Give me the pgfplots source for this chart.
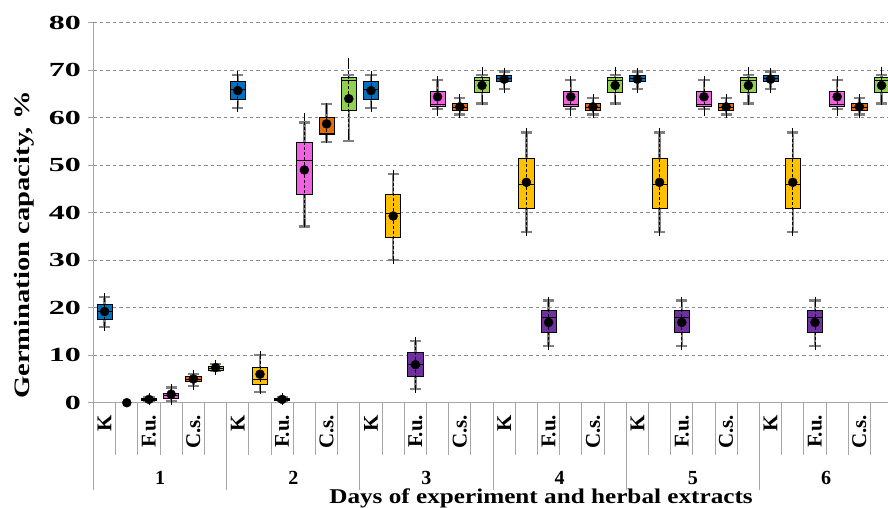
\documentclass[border=0pt]{standalone}
\usepackage{fontspec}
\setmainfont{Liberation Serif}
\newfontfamily\tickfont{Liberation Serif}[FakeStretch=1.6]
\newfontfamily\ylabfont{Liberation Serif}[FakeStretch=1.3]
\newfontfamily\titfont{Liberation Serif}[FakeStretch=1.2]
\usepackage{pgfplots}
\pgfplotsset{compat=1.18}
\usepgfplotslibrary{statistics}
\definecolor{cA}{HTML}{0070C0}
\definecolor{cB}{HTML}{FFC000}
\definecolor{cC}{HTML}{7030A0}
\definecolor{cD}{HTML}{F060E0}
\definecolor{cE}{HTML}{E46C0A}
\definecolor{cF}{HTML}{92D050}
\definecolor{axgray}{HTML}{A6A6A6}
\definecolor{wgray}{HTML}{808080}
\definecolor{ggray}{HTML}{8C8C8C}
\pgfplotsset{
  boxplot/draw direction=y,
  boxplot/box extend=0.68,
  boxplot/whisker extend=0.5,
  boxplot/every whisker/.style={draw=wgray, line width=2.4pt},
  boxplot/every median/.style={draw=black, line width=0.8pt},
}
\newcommand{\bx}[7]{%
  \addplot[draw=black, line width=0.8pt, fill=#7,
    boxplot prepared={draw position=#1, lower whisker=#2, lower quartile=#3,
      median=#4, upper quartile=#5, upper whisker=#6}] coordinates {};}
\pgfplotsset{meanstyle/.style={black, only marks, mark=*, mark size=4.5pt,
  error bars/.cd, y dir=both, y explicit,
  error bar style={black, densely dashed, line width=0.7pt},
  error mark options={black, solid, line width=0.7pt, mark size=4pt}}}
\begin{document}
\begin{tikzpicture}
\begin{axis}[
  scale only axis, width=794.5pt, height=380pt,
  xmin=0, xmax=35.79, ymin=0, ymax=80,
  axis x line=bottom, axis y line=left,
  axis line style={-, draw=axgray, line width=1.3pt},
  xtick=\empty,
  ytick={0,10,...,80},
  tick align=outside, major tick length=5pt,
  y tick style={draw=axgray, line width=1pt},
  ymajorgrids, grid style={draw=ggray, line width=0.6pt, dash pattern=on 3.5pt off 3pt},
  /pgf/number format/assume math mode=true,
  yticklabel style={font=\tickfont\bfseries\fontsize{20}{20}\selectfont, xshift=-4pt},
  clip=false,
]
\coordinate (O) at (axis cs:0,0);
% --- box plots (gray whiskers) ---
% K (blue)
\bx{0.5}{15.9}{17.6}{19.2}{20.6}{22.2}{cA}
\bx{6.5}{62.0}{63.9}{66.0}{67.6}{69.0}{cA}
\bx{12.5}{62.0}{63.9}{66.0}{67.6}{69.0}{cA}
\bx{18.5}{66.0}{67.6}{68.3}{69.0}{69.7}{cA}
\bx{24.5}{66.0}{67.6}{68.3}{69.0}{69.7}{cA}
\bx{30.5}{66.0}{67.6}{68.3}{69.0}{69.7}{cA}
% yellow
\bx{7.5}{2.3}{3.9}{4.9}{7.4}{10.0}{cB}
\bx{13.5}{30.0}{34.8}{39.9}{43.9}{48.1}{cB}
\bx{19.5}{35.9}{40.9}{46.0}{51.4}{56.9}{cB}
\bx{25.5}{35.9}{40.9}{46.0}{51.4}{56.9}{cB}
\bx{31.5}{35.9}{40.9}{46.0}{51.4}{56.9}{cB}
% purple
\bx{2.5}{0.3}{0.45}{0.7}{0.95}{1.1}{cC}
\bx{8.5}{0.3}{0.45}{0.7}{0.95}{1.1}{cC}
\bx{14.5}{2.9}{5.5}{8.1}{10.5}{13.0}{cC}
\bx{20.5}{11.9}{14.9}{17.9}{19.4}{21.5}{cC}
\bx{26.5}{11.9}{14.9}{17.9}{19.4}{21.5}{cC}
\bx{32.5}{11.9}{14.9}{17.9}{19.4}{21.5}{cC}
% pink
\bx{3.5}{0.4}{0.9}{1.5}{2.0}{3.2}{cD}
\bx{9.5}{37.1}{43.9}{51.0}{54.9}{59.0}{cD}
\bx{15.5}{61.8}{62.3}{62.9}{65.5}{67.9}{cD}
\bx{21.5}{61.8}{62.3}{62.9}{65.5}{67.9}{cD}
\bx{27.5}{61.8}{62.3}{62.9}{65.5}{67.9}{cD}
\bx{33.5}{61.8}{62.3}{62.9}{65.5}{67.9}{cD}
% orange
\bx{4.5}{3.5}{4.4}{4.9}{5.5}{6.0}{cE}
\bx{10.5}{54.9}{56.4}{56.8}{60.1}{62.9}{cE}
\bx{16.5}{60.7}{61.5}{62.2}{63.0}{64.1}{cE}
\bx{22.5}{60.7}{61.5}{62.2}{63.0}{64.1}{cE}
\bx{28.5}{60.7}{61.5}{62.2}{63.0}{64.1}{cE}
\bx{34.5}{60.7}{61.5}{62.2}{63.0}{64.1}{cE}
% green
\bx{5.5}{6.7}{6.9}{7.3}{7.7}{8.1}{cF}
\bx{11.5}{55.1}{61.6}{67.9}{68.4}{69.0}{cF}
\bx{17.5}{63.0}{65.3}{67.9}{68.4}{69.0}{cF}
\bx{23.5}{63.0}{65.3}{67.9}{68.4}{69.0}{cF}
\bx{29.5}{63.0}{65.3}{67.9}{68.4}{69.0}{cF}
\bx{35.5}{63.0}{65.3}{67.9}{68.4}{69.0}{cF}
% --- means with black error bars ---
\addplot[meanstyle] coordinates {
 (0.5,19.2) += (0,3.0) -= (0,3.3)
 (6.5,65.7) += (0,3.3) -= (0,3.7)
 (12.5,65.7) += (0,3.3) -= (0,3.7)
 (18.5,68.1) += (0,1.6) -= (0,2.1)
 (24.5,68.1) += (0,1.6) -= (0,2.1)
 (30.5,68.1) += (0,1.6) -= (0,2.1)};
\addplot[meanstyle] coordinates {
 (1.5,0) += (0,0) -= (0,0)
 (7.5,6.0) += (0,4.0) -= (0,3.4)
 (13.5,39.3) += (0,8.8) -= (0,9.3)
 (19.5,46.4) += (0,10.5) -= (0,10.5)
 (25.5,46.4) += (0,10.5) -= (0,10.5)
 (31.5,46.4) += (0,10.5) -= (0,10.5)};
\addplot[meanstyle] coordinates {
 (2.5,0.7) += (0,0.4) -= (0,0.4)
 (8.5,0.7) += (0,0.4) -= (0,0.4)
 (14.5,8.0) += (0,5.0) -= (0,5.1)
 (20.5,16.9) += (0,4.6) -= (0,5.0)
 (26.5,16.9) += (0,4.6) -= (0,5.0)
 (32.5,16.9) += (0,4.6) -= (0,5.0)};
\addplot[meanstyle] coordinates {
 (3.5,1.8) += (0,1.4) -= (0,1.4)
 (9.5,49.0) += (0,11.1) -= (0,11.2)
 (15.5,64.4) += (0,3.5) -= (0,3.3)
 (21.5,64.4) += (0,3.5) -= (0,3.3)
 (27.5,64.4) += (0,3.5) -= (0,3.3)
 (33.5,64.4) += (0,3.5) -= (0,3.3)};
\addplot[meanstyle] coordinates {
 (4.5,5.0) += (0,1.0) -= (0,1.5)
 (10.5,58.7) += (0,3.6) -= (0,3.2)
 (16.5,62.3) += (0,1.8) -= (0,1.6)
 (22.5,62.3) += (0,1.8) -= (0,1.6)
 (28.5,62.3) += (0,1.8) -= (0,1.6)
 (34.5,62.3) += (0,1.8) -= (0,1.6)};
\addplot[meanstyle] coordinates {
 (5.5,7.4) += (0,0.7) -= (0,0.7)
 (11.5,64.0) += (0,7.8) -= (0,7.9)
 (17.5,66.8) += (0,3.1) -= (0,3.3)
 (23.5,66.8) += (0,3.1) -= (0,3.3)
 (29.5,66.8) += (0,3.1) -= (0,3.3)
 (35.5,66.8) += (0,3.1) -= (0,3.3)};
% --- category table below the axis ---
\pgfplotsinvokeforeach{1,...,35}{\draw[axgray, line width=0.9pt] (axis cs:#1,0) -- ++(0pt,-52pt);}
\pgfplotsinvokeforeach{0,6,12,18,24,30}{\draw[axgray, line width=0.9pt] (axis cs:#1,0) -- ++(0pt,-87pt);}
\pgfplotsinvokeforeach{0,6,12,18,24,30}{%
  \path (axis cs:#1,0) ++(11.1pt,-12pt) node[rotate=90, anchor=east, inner sep=0pt, font=\bfseries\fontsize{21}{21}\selectfont] {K};
  \path (axis cs:#1,0) ++(55.5pt,-12pt) node[rotate=90, anchor=east, inner sep=0pt, font=\bfseries\fontsize{21}{21}\selectfont] {F.u.};
  \path (axis cs:#1,0) ++(99.9pt,-12pt) node[rotate=90, anchor=east, inner sep=0pt, font=\bfseries\fontsize{21}{21}\selectfont] {C.s.};
}
\path (axis cs:3,0) ++(0,-75pt) node[font=\bfseries\fontsize{20}{20}\selectfont] {1};
\path (axis cs:9,0) ++(0,-75pt) node[font=\bfseries\fontsize{20}{20}\selectfont] {2};
\path (axis cs:15,0) ++(0,-75pt) node[font=\bfseries\fontsize{20}{20}\selectfont] {3};
\path (axis cs:21,0) ++(0,-75pt) node[font=\bfseries\fontsize{20}{20}\selectfont] {4};
\path (axis cs:27,0) ++(0,-75pt) node[font=\bfseries\fontsize{20}{20}\selectfont] {5};
\path (axis cs:33,0) ++(0,-75pt) node[font=\bfseries\fontsize{20}{20}\selectfont] {6};
\path (axis cs:20.16,0) ++(0,-96pt) node[font=\titfont\bfseries\fontsize{21}{21}\selectfont] {Days of experiment and herbal extracts};
\path (axis cs:0,0) ++(-69.5pt,157.7pt) node[rotate=90, font=\ylabfont\bfseries\fontsize{22}{22}\selectfont] {Germination capacity, \%};
\end{axis}
\pgfresetboundingbox
\path (O) ++(-93.5pt,-104.3pt) rectangle ++(888pt,507pt);
\end{tikzpicture}
\end{document}
